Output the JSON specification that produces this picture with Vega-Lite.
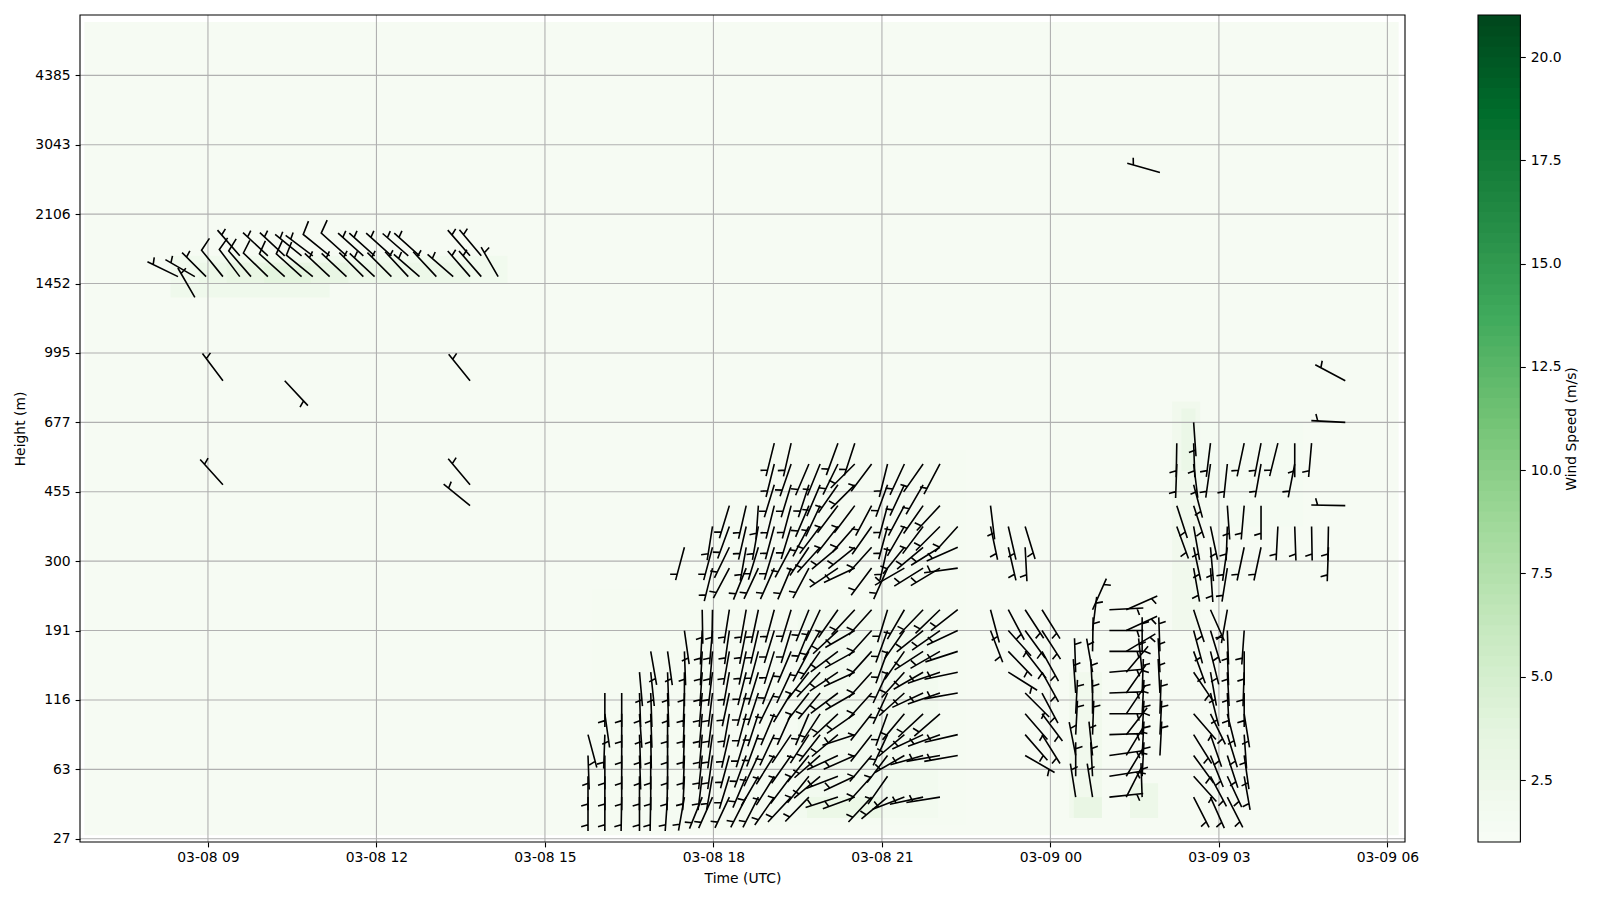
{"$schema":"https://vega.github.io/schema/vega-lite/v6.json","background":"white","padding":{"left":13,"top":14,"right":0,"bottom":5},"bounds":"flush","spacing":73,"config":{"font":"DejaVu Sans","view":{"stroke":null},"axis":{"labelFontSize":13.9,"titleFontSize":13.9,"labelColor":"black","titleColor":"black","titleFontWeight":"normal","tickColor":"black","tickSize":4.9,"tickWidth":1.1,"domain":false,"grid":false,"labelPadding":4.9,"zindex":1,"labelFlush":false,"labelOverlap":false}},
"datasets":{
"cells":[
{"t0":"2024-03-08T06:48Z","t1":"2024-03-09T06:12Z","g0":0.5,"g1":117.7,"v":1.2},
{"t0":"2024-03-08T08:20Z","t1":"2024-03-08T14:20Z","g0":80,"g1":84,"v":1.8},
{"t0":"2024-03-08T08:20Z","t1":"2024-03-08T11:10Z","g0":78,"g1":80,"v":2.1},
{"t0":"2024-03-08T08:50Z","t1":"2024-03-08T13:40Z","g0":80,"g1":83,"v":2.4},
{"t0":"2024-03-08T09:20Z","t1":"2024-03-08T11:30Z","g0":80,"g1":83,"v":3},
{"t0":"2024-03-08T10:00Z","t1":"2024-03-08T10:50Z","g0":80,"g1":82.5,"v":3.6},
{"t0":"2024-03-08T15:50Z","t1":"2024-03-08T22:30Z","g0":2,"g1":36,"v":1.35},
{"t0":"2024-03-08T18:00Z","t1":"2024-03-08T22:30Z","g0":36,"g1":56,"v":1.35},
{"t0":"2024-03-08T19:30Z","t1":"2024-03-08T22:00Z","g0":3,"g1":33,"v":1.7},
{"t0":"2024-03-08T19:40Z","t1":"2024-03-08T21:00Z","g0":3,"g1":6,"v":2.6},
{"t0":"2024-03-09T00:20Z","t1":"2024-03-09T00:55Z","g0":3,"g1":24,"v":1.9},
{"t0":"2024-03-09T00:25Z","t1":"2024-03-09T00:55Z","g0":3,"g1":6,"v":3},
{"t0":"2024-03-09T01:25Z","t1":"2024-03-09T01:55Z","g0":3,"g1":8,"v":2.4},
{"t0":"2024-03-09T02:10Z","t1":"2024-03-09T02:40Z","g0":30,"g1":63,"v":1.9},
{"t0":"2024-03-09T02:20Z","t1":"2024-03-09T02:35Z","g0":53,"g1":62,"v":2.7},
{"t0":"2024-03-09T02:40Z","t1":"2024-03-09T04:30Z","g0":45,"g1":60,"v":1.4}],
"frame":[{"t0":"2024-03-08T06:43:18Z","t1":"2024-03-09T06:18:48Z","g0":-0.47,"g1":118.7}],
"gx":[{"t":"2024-03-08T09:00Z"},{"t":"2024-03-08T12:00Z"},{"t":"2024-03-08T15:00Z"},{"t":"2024-03-08T18:00Z"},{"t":"2024-03-08T21:00Z"},{"t":"2024-03-09T00:00Z"},{"t":"2024-03-09T03:00Z"},{"t":"2024-03-09T06:00Z"}],
"gy":[{"g":0},{"g":10},{"g":20},{"g":30},{"g":40},{"g":50},{"g":60},{"g":70},{"g":80},{"g":90},{"g":100},{"g":110}],
"bar":[{"v":1,"w":1.4},{"v":1.25,"w":1.65},{"v":1.5,"w":1.9},{"v":1.75,"w":2.15},{"v":2,"w":2.4},{"v":2.25,"w":2.65},{"v":2.5,"w":2.9},{"v":2.75,"w":3.15},{"v":3,"w":3.4},{"v":3.25,"w":3.65},{"v":3.5,"w":3.9},{"v":3.75,"w":4.15},{"v":4,"w":4.4},{"v":4.25,"w":4.65},{"v":4.5,"w":4.9},{"v":4.75,"w":5.15},{"v":5,"w":5.4},{"v":5.25,"w":5.65},{"v":5.5,"w":5.9},{"v":5.75,"w":6.15},{"v":6,"w":6.4},{"v":6.25,"w":6.65},{"v":6.5,"w":6.9},{"v":6.75,"w":7.15},{"v":7,"w":7.4},{"v":7.25,"w":7.65},{"v":7.5,"w":7.9},{"v":7.75,"w":8.15},{"v":8,"w":8.4},{"v":8.25,"w":8.65},{"v":8.5,"w":8.9},{"v":8.75,"w":9.15},{"v":9,"w":9.4},{"v":9.25,"w":9.65},{"v":9.5,"w":9.9},{"v":9.75,"w":10.15},{"v":10,"w":10.4},{"v":10.25,"w":10.65},{"v":10.5,"w":10.9},{"v":10.75,"w":11.15},{"v":11,"w":11.4},{"v":11.25,"w":11.65},{"v":11.5,"w":11.9},{"v":11.75,"w":12.15},{"v":12,"w":12.4},{"v":12.25,"w":12.65},{"v":12.5,"w":12.9},{"v":12.75,"w":13.15},{"v":13,"w":13.4},{"v":13.25,"w":13.65},{"v":13.5,"w":13.9},{"v":13.75,"w":14.15},{"v":14,"w":14.4},{"v":14.25,"w":14.65},{"v":14.5,"w":14.9},{"v":14.75,"w":15.15},{"v":15,"w":15.4},{"v":15.25,"w":15.65},{"v":15.5,"w":15.9},{"v":15.75,"w":16.15},{"v":16,"w":16.4},{"v":16.25,"w":16.65},{"v":16.5,"w":16.9},{"v":16.75,"w":17.15},{"v":17,"w":17.4},{"v":17.25,"w":17.65},{"v":17.5,"w":17.9},{"v":17.75,"w":18.15},{"v":18,"w":18.4},{"v":18.25,"w":18.65},{"v":18.5,"w":18.9},{"v":18.75,"w":19.15},{"v":19,"w":19.4},{"v":19.25,"w":19.65},{"v":19.5,"w":19.9},{"v":19.75,"w":20.15},{"v":20,"w":20.4},{"v":20.25,"w":20.65},{"v":20.5,"w":20.9},{"v":20.75,"w":21.02}],
"barframe":[{"v":1,"w":21.02}],
"barbs":[
{"t":"2024-03-08T08:46Z","g":78,"d":330,"b":"h"},
{"t":"2024-03-08T08:28Z","g":81,"d":296,"b":"h"},{"t":"2024-03-08T08:46Z","g":81,"d":300,"b":"h"},{"t":"2024-03-08T08:58Z","g":81,"d":315,"b":"h"},{"t":"2024-03-08T09:16Z","g":81,"d":321,"b":"f"},{"t":"2024-03-08T09:34Z","g":81,"d":323,"b":"f"},{"t":"2024-03-08T09:46Z","g":81,"d":319,"b":"f"},{"t":"2024-03-08T10:04Z","g":81,"d":314,"b":"f"},{"t":"2024-03-08T10:22Z","g":81,"d":312,"b":"f"},{"t":"2024-03-08T10:40Z","g":81,"d":312,"b":"f"},{"t":"2024-03-08T10:52Z","g":81,"d":309,"b":"f"},{"t":"2024-03-08T11:10Z","g":81,"d":313,"b":"h"},{"t":"2024-03-08T11:28Z","g":81,"d":313,"b":"h"},{"t":"2024-03-08T11:46Z","g":81,"d":315,"b":"h"},{"t":"2024-03-08T11:58Z","g":81,"d":313,"b":"h"},{"t":"2024-03-08T12:16Z","g":81,"d":315,"b":"h"},{"t":"2024-03-08T12:34Z","g":81,"d":317,"b":"h"},{"t":"2024-03-08T12:46Z","g":81,"d":311,"b":"h"},{"t":"2024-03-08T13:04Z","g":81,"d":317,"b":"h"},{"t":"2024-03-08T13:22Z","g":81,"d":311,"b":"h"},{"t":"2024-03-08T13:40Z","g":81,"d":319,"b":"h"},{"t":"2024-03-08T13:52Z","g":81,"d":319,"b":"h"},{"t":"2024-03-08T14:10Z","g":81,"d":330,"b":"h"},
{"t":"2024-03-08T09:34Z","g":84,"d":319,"b":"h"},{"t":"2024-03-08T10:04Z","g":84,"d":313,"b":"h"},{"t":"2024-03-08T10:22Z","g":84,"d":313,"b":"h"},{"t":"2024-03-08T10:40Z","g":84,"d":309,"b":"h"},{"t":"2024-03-08T10:52Z","g":84,"d":307,"b":"h"},{"t":"2024-03-08T11:10Z","g":84,"d":309,"b":"f"},{"t":"2024-03-08T11:28Z","g":84,"d":312,"b":"f"},{"t":"2024-03-08T11:46Z","g":84,"d":312,"b":"h"},{"t":"2024-03-08T11:58Z","g":84,"d":312,"b":"h"},{"t":"2024-03-08T12:16Z","g":84,"d":312,"b":"h"},{"t":"2024-03-08T12:34Z","g":84,"d":311,"b":"h"},{"t":"2024-03-08T12:46Z","g":84,"d":312,"b":"h"},{"t":"2024-03-08T13:40Z","g":84,"d":319,"b":"h"},{"t":"2024-03-08T13:52Z","g":84,"d":320,"b":"h"},
{"t":"2024-03-08T09:16Z","g":66,"d":323,"b":"h"},{"t":"2024-03-08T10:22Z","g":66,"d":137,"b":"h"},{"t":"2024-03-08T13:40Z","g":66,"d":321,"b":"h"},{"t":"2024-03-08T09:16Z","g":51,"d":318,"b":"h"},{"t":"2024-03-08T13:40Z","g":51,"d":320,"b":"h"},{"t":"2024-03-08T13:40Z","g":48,"d":309,"b":"h"},
{"t":"2024-03-08T15:46Z","g":15,"d":165,"b":"h"},{"t":"2024-03-08T15:46Z","g":12,"d":178,"b":"h"},{"t":"2024-03-08T15:46Z","g":9,"d":180,"b":"h"},{"t":"2024-03-08T15:46Z","g":6,"d":180,"b":"h"},
{"t":"2024-03-08T16:04Z","g":21,"d":180,"b":"h"},{"t":"2024-03-08T16:04Z","g":18,"d":172,"b":"h"},{"t":"2024-03-08T16:04Z","g":15,"d":182,"b":"h"},{"t":"2024-03-08T16:04Z","g":12,"d":180,"b":"h"},{"t":"2024-03-08T16:04Z","g":9,"d":180,"b":"h"},{"t":"2024-03-08T16:04Z","g":6,"d":180,"b":"h"},
{"t":"2024-03-08T16:22Z","g":21,"d":180,"b":"h"},{"t":"2024-03-08T16:22Z","g":18,"d":180,"b":"h"},{"t":"2024-03-08T16:22Z","g":15,"d":180,"b":"h"},{"t":"2024-03-08T16:22Z","g":12,"d":180,"b":"h"},{"t":"2024-03-08T16:22Z","g":9,"d":180,"b":"h"},{"t":"2024-03-08T16:22Z","g":6,"d":181,"b":"h"},
{"t":"2024-03-08T16:41Z","g":24,"d":175,"b":"h"},{"t":"2024-03-08T16:41Z","g":21,"d":178,"b":"h"},{"t":"2024-03-08T16:41Z","g":18,"d":176,"b":"h"},{"t":"2024-03-08T16:41Z","g":15,"d":178,"b":"h"},{"t":"2024-03-08T16:41Z","g":12,"d":178,"b":"h"},{"t":"2024-03-08T16:41Z","g":9,"d":180,"b":"h"},{"t":"2024-03-08T16:41Z","g":6,"d":180,"b":"h"},
{"t":"2024-03-08T16:53Z","g":27,"d":170,"b":"h"},{"t":"2024-03-08T16:53Z","g":24,"d":174,"b":"h"},{"t":"2024-03-08T16:53Z","g":21,"d":178,"b":"h"},{"t":"2024-03-08T16:53Z","g":18,"d":178,"b":"h"},{"t":"2024-03-08T16:53Z","g":15,"d":179,"b":"h"},{"t":"2024-03-08T16:53Z","g":12,"d":180,"b":"h"},{"t":"2024-03-08T16:53Z","g":9,"d":180,"b":"h"},{"t":"2024-03-08T16:53Z","g":6,"d":181,"b":"h"},
{"t":"2024-03-08T17:11Z","g":27,"d":172,"b":"h"},{"t":"2024-03-08T17:11Z","g":24,"d":178,"b":"h"},{"t":"2024-03-08T17:11Z","g":21,"d":178,"b":"h"},{"t":"2024-03-08T17:11Z","g":18,"d":180,"b":"h"},{"t":"2024-03-08T17:11Z","g":15,"d":180,"b":"h"},{"t":"2024-03-08T17:11Z","g":12,"d":180,"b":"h"},{"t":"2024-03-08T17:11Z","g":9,"d":181,"b":"h"},{"t":"2024-03-08T17:11Z","g":6,"d":184,"b":"h"},
{"t":"2024-03-08T17:29Z","g":30,"d":172,"b":"h"},{"t":"2024-03-08T17:29Z","g":27,"d":178,"b":"h"},{"t":"2024-03-08T17:29Z","g":24,"d":180,"b":"h"},{"t":"2024-03-08T17:29Z","g":21,"d":182,"b":"h"},{"t":"2024-03-08T17:29Z","g":18,"d":182,"b":"h"},{"t":"2024-03-08T17:29Z","g":15,"d":182,"b":"h"},{"t":"2024-03-08T17:29Z","g":12,"d":182,"b":"h"},{"t":"2024-03-08T17:29Z","g":9,"d":183,"b":"h"},{"t":"2024-03-08T17:29Z","g":6,"d":190,"b":"h"},
{"t":"2024-03-08T17:48Z","g":33,"d":179,"b":"h"},{"t":"2024-03-08T17:48Z","g":30,"d":183,"b":"h"},{"t":"2024-03-08T17:48Z","g":27,"d":183,"b":"h"},{"t":"2024-03-08T17:48Z","g":24,"d":184,"b":"h"},{"t":"2024-03-08T17:48Z","g":21,"d":185,"b":"h"},{"t":"2024-03-08T17:48Z","g":18,"d":185,"b":"h"},{"t":"2024-03-08T17:48Z","g":15,"d":185,"b":"h"},{"t":"2024-03-08T17:48Z","g":12,"d":186,"b":"h"},{"t":"2024-03-08T17:48Z","g":9,"d":187,"b":"h"},{"t":"2024-03-08T17:48Z","g":6,"d":202,"b":"h"},
{"t":"2024-03-08T17:59Z","g":33,"d":181,"b":"h"},{"t":"2024-03-08T17:59Z","g":30,"d":185,"b":"h"},{"t":"2024-03-08T17:59Z","g":27,"d":185,"b":"h"},{"t":"2024-03-08T17:59Z","g":24,"d":187,"b":"h"},{"t":"2024-03-08T17:59Z","g":21,"d":187,"b":"h"},{"t":"2024-03-08T17:59Z","g":18,"d":187,"b":"h"},{"t":"2024-03-08T17:59Z","g":15,"d":188,"b":"h"},{"t":"2024-03-08T17:59Z","g":12,"d":188,"b":"h"},{"t":"2024-03-08T17:59Z","g":9,"d":190,"b":"h"},{"t":"2024-03-08T17:59Z","g":6,"d":204,"b":"h"},
{"t":"2024-03-08T18:17Z","g":33,"d":189,"b":"h"},{"t":"2024-03-08T18:17Z","g":30,"d":188,"b":"h"},{"t":"2024-03-08T18:17Z","g":27,"d":190,"b":"h"},{"t":"2024-03-08T18:17Z","g":24,"d":190,"b":"h"},{"t":"2024-03-08T18:17Z","g":21,"d":192,"b":"h"},{"t":"2024-03-08T18:17Z","g":18,"d":190,"b":"h"},{"t":"2024-03-08T18:17Z","g":15,"d":193,"b":"h"},{"t":"2024-03-08T18:17Z","g":12,"d":195,"b":"h"},{"t":"2024-03-08T18:17Z","g":9,"d":197,"b":"h"},{"t":"2024-03-08T18:17Z","g":6,"d":205,"b":"h"},
{"t":"2024-03-08T18:35Z","g":33,"d":190,"b":"h"},{"t":"2024-03-08T18:35Z","g":30,"d":191,"b":"h"},{"t":"2024-03-08T18:35Z","g":27,"d":192,"b":"h"},{"t":"2024-03-08T18:35Z","g":24,"d":194,"b":"h"},{"t":"2024-03-08T18:35Z","g":21,"d":195,"b":"h"},{"t":"2024-03-08T18:35Z","g":18,"d":195,"b":"h"},{"t":"2024-03-08T18:35Z","g":15,"d":197,"b":"h"},{"t":"2024-03-08T18:35Z","g":12,"d":200,"b":"h"},{"t":"2024-03-08T18:35Z","g":9,"d":203,"b":"h"},{"t":"2024-03-08T18:35Z","g":6,"d":207,"b":"h"},
{"t":"2024-03-08T18:48Z","g":33,"d":192,"b":"h"},{"t":"2024-03-08T18:48Z","g":30,"d":193,"b":"h"},{"t":"2024-03-08T18:48Z","g":27,"d":195,"b":"h"},{"t":"2024-03-08T18:48Z","g":24,"d":197,"b":"h"},{"t":"2024-03-08T18:48Z","g":21,"d":198,"b":"h"},{"t":"2024-03-08T18:48Z","g":18,"d":198,"b":"h"},{"t":"2024-03-08T18:48Z","g":15,"d":200,"b":"h"},{"t":"2024-03-08T18:48Z","g":12,"d":205,"b":"h"},{"t":"2024-03-08T18:48Z","g":9,"d":210,"b":"h"},{"t":"2024-03-08T18:48Z","g":6,"d":207,"b":"h"},
{"t":"2024-03-08T19:05Z","g":33,"d":195,"b":"h"},{"t":"2024-03-08T19:05Z","g":30,"d":197,"b":"h"},{"t":"2024-03-08T19:05Z","g":27,"d":197,"b":"h"},{"t":"2024-03-08T19:05Z","g":24,"d":200,"b":"h"},{"t":"2024-03-08T19:05Z","g":21,"d":206,"b":"h"},{"t":"2024-03-08T19:05Z","g":18,"d":203,"b":"h"},{"t":"2024-03-08T19:05Z","g":15,"d":205,"b":"h"},{"t":"2024-03-08T19:05Z","g":12,"d":212,"b":"h"},{"t":"2024-03-08T19:05Z","g":9,"d":212,"b":"h"},{"t":"2024-03-08T19:05Z","g":6,"d":215,"b":"h"},
{"t":"2024-03-08T19:23Z","g":33,"d":197,"b":"h"},{"t":"2024-03-08T19:23Z","g":30,"d":197,"b":"h"},{"t":"2024-03-08T19:23Z","g":27,"d":203,"b":"h"},{"t":"2024-03-08T19:23Z","g":24,"d":205,"b":"h"},{"t":"2024-03-08T19:23Z","g":21,"d":211,"b":"h"},{"t":"2024-03-08T19:23Z","g":18,"d":204,"b":"h"},{"t":"2024-03-08T19:23Z","g":15,"d":214,"b":"h"},{"t":"2024-03-08T19:23Z","g":12,"d":215,"b":"h"},{"t":"2024-03-08T19:23Z","g":9,"d":217,"b":"h"},{"t":"2024-03-08T19:23Z","g":6,"d":223,"b":"h"},
{"t":"2024-03-08T19:42Z","g":33,"d":202,"b":"h"},{"t":"2024-03-08T19:42Z","g":30,"d":202,"b":"h"},{"t":"2024-03-08T19:42Z","g":27,"d":208,"b":"h"},{"t":"2024-03-08T19:42Z","g":24,"d":218,"b":"h"},{"t":"2024-03-08T19:42Z","g":21,"d":218,"b":"h"},{"t":"2024-03-08T19:42Z","g":18,"d":203,"b":"h"},{"t":"2024-03-08T19:42Z","g":15,"d":213,"b":"h"},{"t":"2024-03-08T19:42Z","g":12,"d":219,"b":"h"},{"t":"2024-03-08T19:42Z","g":9,"d":219,"b":"h"},{"t":"2024-03-08T19:42Z","g":6,"d":224,"b":"h"},
{"t":"2024-03-08T19:54Z","g":33,"d":205,"b":"h"},{"t":"2024-03-08T19:54Z","g":30,"d":210,"b":"h"},{"t":"2024-03-08T19:54Z","g":27,"d":215,"b":"h"},{"t":"2024-03-08T19:54Z","g":24,"d":223,"b":"h"},{"t":"2024-03-08T19:54Z","g":21,"d":220,"b":"h"},{"t":"2024-03-08T19:54Z","g":18,"d":213,"b":"h"},{"t":"2024-03-08T19:54Z","g":15,"d":218,"b":"h"},{"t":"2024-03-08T19:54Z","g":12,"d":229,"b":"h"},{"t":"2024-03-08T19:54Z","g":9,"d":230,"b":"h"},
{"t":"2024-03-08T20:13Z","g":33,"d":215,"b":"h"},{"t":"2024-03-08T20:13Z","g":30,"d":227,"b":"h"},{"t":"2024-03-08T20:13Z","g":27,"d":233,"b":"h"},{"t":"2024-03-08T20:13Z","g":24,"d":236,"b":"h"},{"t":"2024-03-08T20:13Z","g":21,"d":233,"b":"h"},{"t":"2024-03-08T20:13Z","g":18,"d":227,"b":"h"},{"t":"2024-03-08T20:13Z","g":15,"d":230,"b":"h"},{"t":"2024-03-08T20:13Z","g":12,"d":245,"b":"h"},{"t":"2024-03-08T20:13Z","g":9,"d":249,"b":"h"},{"t":"2024-03-08T20:13Z","g":6,"d":252,"b":"h"},
{"t":"2024-03-08T20:31Z","g":33,"d":223,"b":"h"},{"t":"2024-03-08T20:31Z","g":30,"d":240,"b":"h"},{"t":"2024-03-08T20:31Z","g":27,"d":241,"b":"h"},{"t":"2024-03-08T20:31Z","g":24,"d":245,"b":"h"},{"t":"2024-03-08T20:31Z","g":21,"d":240,"b":"h"},{"t":"2024-03-08T20:31Z","g":18,"d":235,"b":"h"},{"t":"2024-03-08T20:31Z","g":15,"d":252,"b":"h"},{"t":"2024-03-08T20:31Z","g":12,"d":246,"b":"h"},{"t":"2024-03-08T20:31Z","g":9,"d":245,"b":"h"},{"t":"2024-03-08T20:31Z","g":6,"d":250,"b":"h"},
{"t":"2024-03-08T20:49Z","g":33,"d":222,"b":"h"},{"t":"2024-03-08T20:49Z","g":30,"d":222,"b":"h"},{"t":"2024-03-08T20:49Z","g":27,"d":222,"b":"h"},{"t":"2024-03-08T20:49Z","g":24,"d":222,"b":"h"},{"t":"2024-03-08T20:49Z","g":21,"d":222,"b":"h"},{"t":"2024-03-08T20:49Z","g":18,"d":218,"b":"h"},{"t":"2024-03-08T20:49Z","g":15,"d":218,"b":"h"},{"t":"2024-03-08T20:49Z","g":12,"d":220,"b":"h"},{"t":"2024-03-08T20:49Z","g":9,"d":222,"b":"h"},{"t":"2024-03-08T20:49Z","g":6,"d":223,"b":"h"},
{"t":"2024-03-08T21:06Z","g":33,"d":197,"b":"h"},{"t":"2024-03-08T21:06Z","g":30,"d":200,"b":"h"},{"t":"2024-03-08T21:06Z","g":27,"d":200,"b":"h"},{"t":"2024-03-08T21:06Z","g":24,"d":205,"b":"h"},{"t":"2024-03-08T21:06Z","g":21,"d":205,"b":"h"},{"t":"2024-03-08T21:06Z","g":18,"d":200,"b":"h"},{"t":"2024-03-08T21:06Z","g":15,"d":205,"b":"h"},{"t":"2024-03-08T21:06Z","g":12,"d":217,"b":"h"},{"t":"2024-03-08T21:06Z","g":9,"d":215,"b":"h"},{"t":"2024-03-08T21:06Z","g":6,"d":230,"b":"h"},
{"t":"2024-03-08T21:24Z","g":33,"d":210,"b":"h"},{"t":"2024-03-08T21:24Z","g":30,"d":215,"b":"h"},{"t":"2024-03-08T21:24Z","g":27,"d":215,"b":"h"},{"t":"2024-03-08T21:24Z","g":24,"d":222,"b":"h"},{"t":"2024-03-08T21:24Z","g":21,"d":228,"b":"h"},{"t":"2024-03-08T21:24Z","g":18,"d":220,"b":"h"},{"t":"2024-03-08T21:24Z","g":15,"d":230,"b":"h"},{"t":"2024-03-08T21:24Z","g":12,"d":240,"b":"h"},{"t":"2024-03-08T21:24Z","g":6,"d":249,"b":"h"},
{"t":"2024-03-08T21:44Z","g":33,"d":224,"b":"h"},{"t":"2024-03-08T21:44Z","g":30,"d":231,"b":"h"},{"t":"2024-03-08T21:44Z","g":27,"d":237,"b":"h"},{"t":"2024-03-08T21:44Z","g":24,"d":240,"b":"h"},{"t":"2024-03-08T21:44Z","g":21,"d":245,"b":"h"},{"t":"2024-03-08T21:44Z","g":18,"d":227,"b":"h"},{"t":"2024-03-08T21:44Z","g":15,"d":245,"b":"h"},{"t":"2024-03-08T21:44Z","g":12,"d":254,"b":"h"},{"t":"2024-03-08T21:44Z","g":6,"d":258,"b":"h"},
{"t":"2024-03-08T22:02Z","g":33,"d":226,"b":"h"},{"t":"2024-03-08T22:02Z","g":30,"d":235,"b":"h"},{"t":"2024-03-08T22:02Z","g":27,"d":240,"b":"h"},{"t":"2024-03-08T22:02Z","g":24,"d":251,"b":"h"},{"t":"2024-03-08T22:02Z","g":21,"d":251,"b":"h"},{"t":"2024-03-08T22:02Z","g":18,"d":229,"b":"h"},{"t":"2024-03-08T22:02Z","g":15,"d":250,"b":"h"},{"t":"2024-03-08T22:02Z","g":12,"d":260,"b":"h"},{"t":"2024-03-08T22:02Z","g":6,"d":261,"b":"h"},
{"t":"2024-03-08T22:21Z","g":33,"d":232,"b":"h"},{"t":"2024-03-08T22:21Z","g":30,"d":245,"b":"h"},{"t":"2024-03-08T22:21Z","g":27,"d":252,"b":"h"},{"t":"2024-03-08T22:21Z","g":24,"d":258,"b":"h"},{"t":"2024-03-08T22:21Z","g":21,"d":260,"b":"h"},{"t":"2024-03-08T22:21Z","g":15,"d":257,"b":"h"},{"t":"2024-03-08T22:21Z","g":12,"d":260,"b":"h"},
{"t":"2024-03-08T19:05Z","g":57,"d":194,"b":"h"},{"t":"2024-03-08T19:23Z","g":57,"d":193,"b":"h"},{"t":"2024-03-08T20:13Z","g":57,"d":200,"b":"h"},{"t":"2024-03-08T20:31Z","g":57,"d":198,"b":"h"},
{"t":"2024-03-08T19:05Z","g":54,"d":194,"b":"h"},{"t":"2024-03-08T19:23Z","g":54,"d":199,"b":"h"},{"t":"2024-03-08T19:42Z","g":54,"d":203,"b":"h"},{"t":"2024-03-08T19:54Z","g":54,"d":202,"b":"h"},{"t":"2024-03-08T20:13Z","g":54,"d":206,"b":"h"},{"t":"2024-03-08T20:31Z","g":54,"d":225,"b":"h"},{"t":"2024-03-08T20:49Z","g":54,"d":217,"b":"h"},{"t":"2024-03-08T21:06Z","g":54,"d":194,"b":"h"},{"t":"2024-03-08T21:24Z","g":54,"d":205,"b":"h"},{"t":"2024-03-08T21:44Z","g":54,"d":215,"b":"h"},{"t":"2024-03-08T22:02Z","g":54,"d":208,"b":"h"},
{"t":"2024-03-08T19:05Z","g":51,"d":197,"b":"h"},{"t":"2024-03-08T19:23Z","g":51,"d":197,"b":"h"},{"t":"2024-03-08T19:42Z","g":51,"d":198,"b":"h"},{"t":"2024-03-08T19:54Z","g":51,"d":203,"b":"h"},{"t":"2024-03-08T20:13Z","g":51,"d":215,"b":"h"},{"t":"2024-03-08T20:31Z","g":51,"d":225,"b":"h"},{"t":"2024-03-08T21:06Z","g":51,"d":200,"b":"h"},{"t":"2024-03-08T21:24Z","g":51,"d":205,"b":"h"},{"t":"2024-03-08T21:44Z","g":51,"d":210,"b":"h"},
{"t":"2024-03-08T18:17Z","g":48,"d":197,"b":"h"},{"t":"2024-03-08T18:35Z","g":48,"d":193,"b":"h"},{"t":"2024-03-08T18:48Z","g":48,"d":184,"b":"h"},{"t":"2024-03-08T19:05Z","g":48,"d":194,"b":"h"},{"t":"2024-03-08T19:23Z","g":48,"d":195,"b":"h"},{"t":"2024-03-08T19:42Z","g":48,"d":203,"b":"h"},{"t":"2024-03-08T19:54Z","g":48,"d":205,"b":"h"},{"t":"2024-03-08T20:13Z","g":48,"d":217,"b":"h"},{"t":"2024-03-08T20:31Z","g":48,"d":217,"b":"h"},{"t":"2024-03-08T20:49Z","g":48,"d":208,"b":"h"},{"t":"2024-03-08T21:06Z","g":48,"d":195,"b":"h"},{"t":"2024-03-08T21:24Z","g":48,"d":208,"b":"h"},{"t":"2024-03-08T21:44Z","g":48,"d":215,"b":"h"},{"t":"2024-03-08T22:02Z","g":48,"d":223,"b":"h"},
{"t":"2024-03-08T17:59Z","g":45,"d":189,"b":"h"},{"t":"2024-03-08T18:17Z","g":45,"d":200,"b":"h"},{"t":"2024-03-08T18:35Z","g":45,"d":193,"b":"h"},{"t":"2024-03-08T18:48Z","g":45,"d":190,"b":"h"},{"t":"2024-03-08T19:05Z","g":45,"d":195,"b":"h"},{"t":"2024-03-08T19:23Z","g":45,"d":197,"b":"h"},{"t":"2024-03-08T19:42Z","g":45,"d":208,"b":"h"},{"t":"2024-03-08T19:54Z","g":45,"d":217,"b":"h"},{"t":"2024-03-08T20:13Z","g":45,"d":218,"b":"h"},{"t":"2024-03-08T20:31Z","g":45,"d":221,"b":"h"},{"t":"2024-03-08T20:49Z","g":45,"d":215,"b":"h"},{"t":"2024-03-08T21:06Z","g":45,"d":195,"b":"h"},{"t":"2024-03-08T21:24Z","g":45,"d":210,"b":"h"},{"t":"2024-03-08T21:44Z","g":45,"d":217,"b":"h"},{"t":"2024-03-08T22:02Z","g":45,"d":225,"b":"h"},{"t":"2024-03-08T22:21Z","g":45,"d":222,"b":"h"},
{"t":"2024-03-08T17:29Z","g":42,"d":195,"b":"h"},{"t":"2024-03-08T17:59Z","g":42,"d":195,"b":"h"},{"t":"2024-03-08T18:17Z","g":42,"d":206,"b":"h"},{"t":"2024-03-08T18:35Z","g":42,"d":190,"b":"h"},{"t":"2024-03-08T18:48Z","g":42,"d":197,"b":"h"},{"t":"2024-03-08T19:05Z","g":42,"d":197,"b":"h"},{"t":"2024-03-08T19:23Z","g":42,"d":208,"b":"h"},{"t":"2024-03-08T19:42Z","g":42,"d":214,"b":"h"},{"t":"2024-03-08T19:54Z","g":42,"d":222,"b":"h"},{"t":"2024-03-08T20:13Z","g":42,"d":230,"b":"h"},{"t":"2024-03-08T20:31Z","g":42,"d":231,"b":"h"},{"t":"2024-03-08T20:49Z","g":42,"d":222,"b":"h"},{"t":"2024-03-08T21:06Z","g":42,"d":193,"b":"h"},{"t":"2024-03-08T21:24Z","g":42,"d":219,"b":"h"},{"t":"2024-03-08T21:44Z","g":42,"d":230,"b":"h"},{"t":"2024-03-08T22:02Z","g":42,"d":238,"b":"h"},{"t":"2024-03-08T22:21Z","g":42,"d":246,"b":"h"},
{"t":"2024-03-08T17:59Z","g":39,"d":194,"b":"h"},{"t":"2024-03-08T18:17Z","g":39,"d":208,"b":"h"},{"t":"2024-03-08T18:35Z","g":39,"d":202,"b":"h"},{"t":"2024-03-08T18:48Z","g":39,"d":205,"b":"h"},{"t":"2024-03-08T19:05Z","g":39,"d":204,"b":"h"},{"t":"2024-03-08T19:23Z","g":39,"d":203,"b":"h"},{"t":"2024-03-08T19:42Z","g":39,"d":208,"b":"h"},{"t":"2024-03-08T20:13Z","g":39,"d":236,"b":"h"},{"t":"2024-03-08T20:31Z","g":39,"d":245,"b":"h"},{"t":"2024-03-08T20:49Z","g":39,"d":217,"b":"h"},{"t":"2024-03-08T21:06Z","g":39,"d":204,"b":"h"},{"t":"2024-03-08T21:24Z","g":39,"d":240,"b":"h"},{"t":"2024-03-08T21:44Z","g":39,"d":238,"b":"h"},{"t":"2024-03-08T22:02Z","g":39,"d":239,"b":"h"},{"t":"2024-03-08T22:21Z","g":39,"d":262,"b":"h"},
{"t":"2024-03-08T22:56Z","g":48,"d":173,"b":"h"},{"t":"2024-03-08T22:56Z","g":45,"d":168,"b":"h"},{"t":"2024-03-08T23:15Z","g":45,"d":167,"b":"h"},{"t":"2024-03-08T23:33Z","g":45,"d":163,"b":"h"},{"t":"2024-03-08T23:15Z","g":42,"d":167,"b":"h"},{"t":"2024-03-08T23:33Z","g":42,"d":177,"b":"h"},
{"t":"2024-03-08T22:56Z","g":33,"d":165,"b":"h"},{"t":"2024-03-08T23:15Z","g":33,"d":152,"b":"h"},{"t":"2024-03-08T23:33Z","g":33,"d":147,"b":"h"},{"t":"2024-03-08T23:51Z","g":33,"d":148,"b":"h"},
{"t":"2024-03-08T22:56Z","g":30,"d":159,"b":"h"},{"t":"2024-03-08T23:15Z","g":30,"d":138,"b":"h"},{"t":"2024-03-08T23:33Z","g":30,"d":144,"b":"h"},{"t":"2024-03-08T23:51Z","g":30,"d":147,"b":"h"},
{"t":"2024-03-08T23:15Z","g":27,"d":136,"b":"h"},{"t":"2024-03-08T23:33Z","g":27,"d":142,"b":"h"},{"t":"2024-03-08T23:51Z","g":27,"d":151,"b":"h"},
{"t":"2024-03-08T23:15Z","g":24,"d":122,"b":"h"},{"t":"2024-03-08T23:51Z","g":24,"d":151,"b":"h"},{"t":"2024-03-08T23:33Z","g":21,"d":135,"b":"h"},{"t":"2024-03-08T23:51Z","g":21,"d":152,"b":"h"},{"t":"2024-03-08T23:33Z","g":18,"d":139,"b":"h"},{"t":"2024-03-08T23:51Z","g":18,"d":143,"b":"h"},{"t":"2024-03-08T23:33Z","g":15,"d":139,"b":"h"},{"t":"2024-03-08T23:51Z","g":15,"d":148,"b":"h"},{"t":"2024-03-08T23:33Z","g":12,"d":120,"b":"h"},
{"t":"2024-03-09T00:27Z","g":24,"d":358,"b":"h"},{"t":"2024-03-09T00:27Z","g":21,"d":356,"b":"h"},{"t":"2024-03-09T00:27Z","g":18,"d":3,"b":"h"},{"t":"2024-03-09T00:27Z","g":15,"d":3,"b":"h"},{"t":"2024-03-09T00:27Z","g":12,"d":349,"b":"h"},{"t":"2024-03-09T00:27Z","g":9,"d":0,"b":"h"},{"t":"2024-03-09T00:27Z","g":6,"d":351,"b":"h"},
{"t":"2024-03-09T00:45Z","g":33,"d":24,"b":"h"},{"t":"2024-03-09T00:45Z","g":30,"d":7,"b":"h"},{"t":"2024-03-09T00:45Z","g":27,"d":1,"b":"h"},{"t":"2024-03-09T00:45Z","g":24,"d":350,"b":"h"},{"t":"2024-03-09T00:45Z","g":21,"d":357,"b":"h"},{"t":"2024-03-09T00:45Z","g":18,"d":0,"b":"h"},{"t":"2024-03-09T00:45Z","g":15,"d":2,"b":"h"},{"t":"2024-03-09T00:45Z","g":12,"d":354,"b":"h"},{"t":"2024-03-09T00:45Z","g":9,"d":357,"b":"h"},{"t":"2024-03-09T00:45Z","g":6,"d":351,"b":"h"},
{"t":"2024-03-09T01:03Z","g":33,"d":87,"b":"h"},{"t":"2024-03-09T01:03Z","g":30,"d":90,"b":"h"},{"t":"2024-03-09T01:03Z","g":27,"d":90,"b":"h"},{"t":"2024-03-09T01:03Z","g":24,"d":85,"b":"h"},{"t":"2024-03-09T01:03Z","g":21,"d":88,"b":"h"},{"t":"2024-03-09T01:03Z","g":18,"d":90,"b":"h"},{"t":"2024-03-09T01:03Z","g":15,"d":88,"b":"h"},{"t":"2024-03-09T01:03Z","g":12,"d":82,"b":"h"},{"t":"2024-03-09T01:03Z","g":9,"d":81,"b":"h"},{"t":"2024-03-09T01:03Z","g":6,"d":84,"b":"h"},
{"t":"2024-03-09T01:21Z","g":33,"d":66,"b":"h"},{"t":"2024-03-09T01:21Z","g":30,"d":65,"b":"h"},{"t":"2024-03-09T01:21Z","g":27,"d":59,"b":"h"},{"t":"2024-03-09T01:21Z","g":24,"d":40,"b":"h"},{"t":"2024-03-09T01:21Z","g":21,"d":35,"b":"h"},{"t":"2024-03-09T01:21Z","g":18,"d":34,"b":"h"},{"t":"2024-03-09T01:21Z","g":15,"d":38,"b":"h"},{"t":"2024-03-09T01:21Z","g":12,"d":31,"b":"h"},{"t":"2024-03-09T01:21Z","g":9,"d":31,"b":"h"},{"t":"2024-03-09T01:21Z","g":6,"d":27,"b":"h"},
{"t":"2024-03-09T01:38Z","g":27,"d":0,"b":"h"},{"t":"2024-03-09T01:38Z","g":24,"d":354,"b":"h"},{"t":"2024-03-09T01:38Z","g":21,"d":2,"b":"h"},{"t":"2024-03-09T01:38Z","g":18,"d":3,"b":"h"},{"t":"2024-03-09T01:38Z","g":15,"d":3,"b":"h"},{"t":"2024-03-09T01:38Z","g":12,"d":3,"b":"h"},{"t":"2024-03-09T01:38Z","g":9,"d":3,"b":"h"},{"t":"2024-03-09T01:38Z","g":6,"d":358,"b":"h"},
{"t":"2024-03-09T01:57Z","g":27,"d":358,"b":"h"},{"t":"2024-03-09T01:57Z","g":24,"d":357,"b":"h"},{"t":"2024-03-09T01:57Z","g":21,"d":357,"b":"h"},{"t":"2024-03-09T01:57Z","g":18,"d":2,"b":"h"},{"t":"2024-03-09T01:57Z","g":15,"d":3,"b":"h"},{"t":"2024-03-09T01:57Z","g":12,"d":3,"b":"h"},
{"t":"2024-03-09T01:57Z","g":96,"d":286,"b":"h"},{"t":"2024-03-09T05:15Z","g":66,"d":298,"b":"h"},{"t":"2024-03-09T05:15Z","g":60,"d":273,"b":"h"},{"t":"2024-03-09T05:15Z","g":48,"d":271,"b":"h"},
{"t":"2024-03-09T02:33Z","g":60,"d":176,"b":"h"},
{"t":"2024-03-09T02:15Z","g":57,"d":181,"b":"h"},{"t":"2024-03-09T02:33Z","g":57,"d":178,"b":"h"},{"t":"2024-03-09T02:51Z","g":57,"d":187,"b":"h"},{"t":"2024-03-09T03:27Z","g":57,"d":192,"b":"h"},{"t":"2024-03-09T03:45Z","g":57,"d":191,"b":"h"},{"t":"2024-03-09T04:03Z","g":57,"d":194,"b":"h"},{"t":"2024-03-09T04:21Z","g":57,"d":180,"b":"h"},{"t":"2024-03-09T04:39Z","g":57,"d":185,"b":"h"},
{"t":"2024-03-09T02:15Z","g":54,"d":182,"b":"h"},{"t":"2024-03-09T02:33Z","g":54,"d":173,"b":"h"},{"t":"2024-03-09T02:51Z","g":54,"d":188,"b":"h"},{"t":"2024-03-09T03:09Z","g":54,"d":186,"b":"h"},{"t":"2024-03-09T03:45Z","g":54,"d":190,"b":"h"},{"t":"2024-03-09T04:21Z","g":54,"d":191,"b":"h"},{"t":"2024-03-09T02:33Z","g":51,"d":165,"b":"h"},
{"t":"2024-03-09T02:15Z","g":48,"d":162,"b":"h"},{"t":"2024-03-09T02:33Z","g":48,"d":162,"b":"h"},{"t":"2024-03-09T03:09Z","g":48,"d":176,"b":"h"},{"t":"2024-03-09T03:27Z","g":48,"d":185,"b":"h"},{"t":"2024-03-09T03:45Z","g":48,"d":180,"b":"h"},
{"t":"2024-03-09T02:15Z","g":45,"d":160,"b":"h"},{"t":"2024-03-09T02:33Z","g":45,"d":170,"b":"h"},{"t":"2024-03-09T02:51Z","g":45,"d":168,"b":"h"},{"t":"2024-03-09T03:09Z","g":45,"d":182,"b":"h"},{"t":"2024-03-09T04:03Z","g":45,"d":183,"b":"h"},{"t":"2024-03-09T04:21Z","g":45,"d":178,"b":"h"},{"t":"2024-03-09T04:39Z","g":45,"d":179,"b":"h"},{"t":"2024-03-09T04:57Z","g":45,"d":181,"b":"h"},
{"t":"2024-03-09T02:33Z","g":42,"d":168,"b":"h"},{"t":"2024-03-09T02:51Z","g":42,"d":175,"b":"h"},{"t":"2024-03-09T03:09Z","g":42,"d":188,"b":"h"},{"t":"2024-03-09T03:27Z","g":42,"d":192,"b":"h"},{"t":"2024-03-09T03:45Z","g":42,"d":192,"b":"h"},{"t":"2024-03-09T04:57Z","g":42,"d":182,"b":"h"},
{"t":"2024-03-09T02:33Z","g":39,"d":170,"b":"h"},{"t":"2024-03-09T02:51Z","g":39,"d":176,"b":"h"},{"t":"2024-03-09T03:09Z","g":39,"d":189,"b":"h"},
{"t":"2024-03-09T02:33Z","g":33,"d":162,"b":"h"},{"t":"2024-03-09T02:51Z","g":33,"d":156,"b":"h"},{"t":"2024-03-09T03:09Z","g":33,"d":190,"b":"h"},
{"t":"2024-03-09T02:33Z","g":30,"d":165,"b":"h"},{"t":"2024-03-09T02:51Z","g":30,"d":163,"b":"h"},{"t":"2024-03-09T03:09Z","g":30,"d":178,"b":"h"},{"t":"2024-03-09T03:27Z","g":30,"d":184,"b":"h"},
{"t":"2024-03-09T02:33Z","g":27,"d":160,"b":"h"},{"t":"2024-03-09T02:51Z","g":27,"d":166,"b":"h"},{"t":"2024-03-09T03:09Z","g":27,"d":178,"b":"h"},{"t":"2024-03-09T03:27Z","g":27,"d":180,"b":"h"},
{"t":"2024-03-09T02:33Z","g":24,"d":146,"b":"h"},{"t":"2024-03-09T02:51Z","g":24,"d":170,"b":"h"},{"t":"2024-03-09T03:09Z","g":24,"d":177,"b":"h"},{"t":"2024-03-09T03:27Z","g":24,"d":182,"b":"h"},
{"t":"2024-03-09T02:51Z","g":21,"d":166,"b":"h"},{"t":"2024-03-09T03:09Z","g":21,"d":177,"b":"h"},{"t":"2024-03-09T03:27Z","g":21,"d":180,"b":"h"},
{"t":"2024-03-09T02:33Z","g":18,"d":139,"b":"h"},{"t":"2024-03-09T02:51Z","g":18,"d":154,"b":"h"},{"t":"2024-03-09T03:09Z","g":18,"d":166,"b":"h"},{"t":"2024-03-09T03:27Z","g":18,"d":171,"b":"h"},
{"t":"2024-03-09T02:33Z","g":15,"d":148,"b":"h"},{"t":"2024-03-09T02:51Z","g":15,"d":161,"b":"h"},{"t":"2024-03-09T03:09Z","g":15,"d":163,"b":"h"},{"t":"2024-03-09T03:27Z","g":15,"d":176,"b":"h"},
{"t":"2024-03-09T02:33Z","g":12,"d":144,"b":"h"},{"t":"2024-03-09T02:51Z","g":12,"d":158,"b":"h"},{"t":"2024-03-09T03:09Z","g":12,"d":162,"b":"h"},{"t":"2024-03-09T03:27Z","g":12,"d":172,"b":"h"},
{"t":"2024-03-09T02:33Z","g":9,"d":138,"b":"h"},{"t":"2024-03-09T02:51Z","g":9,"d":152,"b":"h"},{"t":"2024-03-09T03:09Z","g":9,"d":155,"b":"h"},{"t":"2024-03-09T03:27Z","g":9,"d":170,"b":"h"},
{"t":"2024-03-09T02:33Z","g":6,"d":153,"b":"h"},{"t":"2024-03-09T02:51Z","g":6,"d":156,"b":"h"},{"t":"2024-03-09T03:09Z","g":6,"d":153,"b":"h"}
]},
"hconcat":[
{"width":1325,"height":827,"layer":[
{"data":{"name":"cells"},"mark":{"type":"rect"},"encoding":{
"x":{"field":"t0","type":"temporal","title":"Time (UTC)","scale":{"type":"utc","domain":["2024-03-08T06:43:18Z","2024-03-09T06:18:48Z"],"nice":false},"axis":{"format":"%m-%d %H","labelPadding":3.5,"values":[{"year":2024,"month":3,"date":8,"hours":9,"utc":true},{"year":2024,"month":3,"date":8,"hours":12,"utc":true},{"year":2024,"month":3,"date":8,"hours":15,"utc":true},{"year":2024,"month":3,"date":8,"hours":18,"utc":true},{"year":2024,"month":3,"date":8,"hours":21,"utc":true},{"year":2024,"month":3,"date":9,"hours":0,"utc":true},{"year":2024,"month":3,"date":9,"hours":3,"utc":true},{"year":2024,"month":3,"date":9,"hours":6,"utc":true}],"titlePadding":7}},
"x2":{"field":"t1"},
"y":{"field":"g0","type":"quantitative","title":"Height (m)","scale":{"domain":[-0.47,118.7],"nice":false,"zero":false},"axis":{"values":[0,10,20,30,40,50,60,70,80,90,100,110],"labelExpr":"['27','63','116','191','300','455','677','995','1452','2106','3043','4385'][round(datum.value/10)]","titlePadding":7.1}},
"y2":{"field":"g1"},
"color":{"field":"v","type":"quantitative","scale":{"domain":[1,3.5,6,8.5,11,13.5,16,18.5,21],"range":["#f7fcf5","#e5f5e0","#c7e9c0","#a1d99b","#74c476","#41ab5d","#238b45","#006d2c","#00441b"]},"legend":null}}},
{"data":{"name":"gy"},"mark":{"type":"rule","color":"#b0b0b0","strokeWidth":1.1},"encoding":{"y":{"field":"g","type":"quantitative"}}},
{"data":{"name":"gx"},"mark":{"type":"rule","color":"#b0b0b0","strokeWidth":1.1},"encoding":{"x":{"field":"t","type":"temporal"}}},
{"data":{"name":"barbs"},"mark":{"type":"point","filled":false,"stroke":"black","strokeWidth":1.6,"opacity":1},"encoding":{
"x":{"field":"t","type":"temporal"},
"y":{"field":"g","type":"quantitative"},
"shape":{"field":"b","type":"nominal","scale":{"domain":["h","f"],"range":["M0 0L0 1M0 .8125L-.2 .875","M0 0L0 1L-.4 1.125"]},"legend":null},
"size":{"value":4624},
"angle":{"field":"d","type":"quantitative","scale":{"domain":[0,360],"range":[180,540]}}}},
{"data":{"name":"frame"},"mark":{"type":"rect","fillOpacity":0,"stroke":"black","strokeWidth":1.1},"encoding":{
"x":{"field":"t0","type":"temporal"},"x2":{"field":"t1"},"y":{"field":"g0","type":"quantitative"},"y2":{"field":"g1"}}}
]},
{"width":42.4,"height":827,"layer":[
{"data":{"name":"bar"},"mark":{"type":"rect"},"encoding":{
"y":{"field":"v","type":"quantitative","title":"Wind Speed (m/s)","scale":{"domain":[1,21.02],"nice":false,"zero":false},"axis":{"orient":"right","values":[2.5,5,7.5,10,12.5,15,17.5,20],"format":".1f","titleAngle":270,"titlePadding":17}},
"y2":{"field":"w"},
"color":{"field":"v","type":"quantitative","legend":null}}},
{"data":{"name":"barframe"},"mark":{"type":"rect","fillOpacity":0,"stroke":"black","strokeWidth":1.1},"encoding":{"y":{"field":"v","type":"quantitative"},"y2":{"field":"w"}}}
]}
]}
